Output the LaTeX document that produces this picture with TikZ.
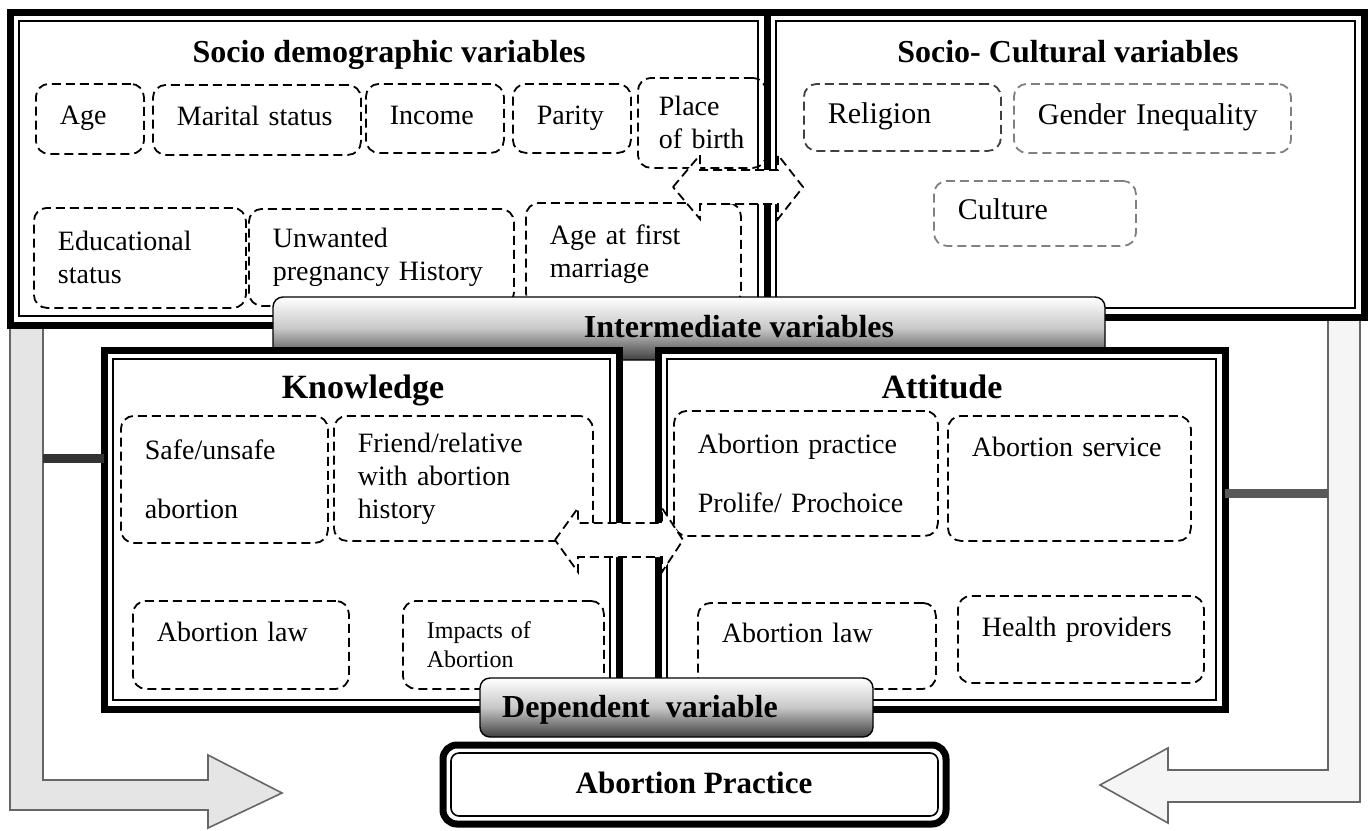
\documentclass[tikz,border=0pt]{standalone}
\usepackage{fontspec}
\setmainfont{Liberation Serif}
\newcommand{\itemsize}{\fontsize{28}{33}\selectfont}
\newcommand{\bigitem}{\fontsize{30}{36}\selectfont}
\newcommand{\smallitem}{\fontsize{24}{29}\selectfont}
\begin{document}
\begin{tikzpicture}[x=1pt, y=-1pt,
		frame/.style = {draw, line width=7pt, fill=white, inner sep=0pt, outer sep=0pt},
		inner line/.style = {draw, line width=1.6pt},
		item/.style = {draw, dash pattern=on 9pt off 5pt, line width=1.8pt, rounded corners=13pt,
			anchor=north west, align=left, inner xsep=24pt, inner ysep=0pt, font=\itemsize},
		oneline/.style = {text height=19pt, text depth=7pt},
		faint/.style = {item, oneline, draw=black!50, font=\bigitem},
		title/.style = {font=\fontsize{32}{38}\selectfont\bfseries, anchor=base},
		tab/.style = {draw, line width=1.4pt, rounded corners=10pt, inner sep=0pt,
			top color=white, bottom color=black!75, middle color=black!22},
		bar/.style = {draw=black!60, line width=1.6pt, fill=black!10},
		link/.style = {line width=9pt, black!80},
		dbl arrow/.style = {draw, dash pattern=on 9pt off 5pt, line width=1.8pt, fill=white}]
	
	\useasboundingbox (0,0) rectangle (1372,830);
	\fill[white] (0,0) rectangle (1372,830);
	
	% side bars with their block arrows
	\draw[bar] (10,325) -- (43,325) -- (43,780) -- (208,780) -- (208,755) -- (282,793)
		-- (208,828) -- (208,810) -- (10,810) -- cycle;
	\draw[bar, fill=black!4] (1328,320) -- (1360,320) -- (1360,802) -- (1168,802) -- (1168,823)
		-- (1100,785) -- (1168,748) -- (1168,770) -- (1328,770) -- cycle;
	\coordinate (lbar) at (43,458);
	\coordinate (rbar) at (1328,493);
	
	% upper frames
	\node[frame, minimum width=757pt, minimum height=313pt] (sd) at (388.5,168.5) {};
	\node[frame, minimum width=597pt, minimum height=305pt] (sc) at (1065.5,164.5) {};
	\foreach \f in {sd,sc}
	\draw[inner line] ([xshift=9pt,yshift=-9pt]\f.north west) rectangle ([xshift=-9pt,yshift=9pt]\f.south east);
	
	\node[title] (sdtitle) at (389,62) {Socio demographic variables};
	\node[title] (sctitle) at (1068,62) {Socio- Cultural variables};
	
	% socio demographic items
	\node[item, oneline, text width=60pt, minimum height=70pt] (age) at (35,83) {Age};
	\node[item, oneline, text width=160pt, minimum height=70pt] (marital) at (152,84) {Marital status};
	\node[item, oneline, text width=90pt, minimum height=69pt] (income) at (365,83) {Income};
	\node[item, oneline, text width=70pt, minimum height=69pt] (parity) at (512,83) {Parity};
	\node[item, text width=86pt, inner xsep=21pt, minimum height=90pt] (birth) at (637,77) {Place\\of birth};
	\node[item, text width=164pt, minimum height=100pt] (edu) at (33,207) {Educational\\status};
	\node[item, text width=217pt, minimum height=97pt] (unwanted) at (248,208) {Unwanted\\pregnancy History};
	\node[item, text width=167pt, minimum height=103pt] (firstmar) at (525,202) {Age at first\\marriage};
	
	% socio cultural items
	\node[faint, draw=black!75, text width=149pt, minimum height=67pt] (religion) at (803,83) {Religion};
	\node[faint, text width=229pt, minimum height=69pt] (gender) at (1013,83) {Gender Inequality};
	\node[faint, text width=154pt, minimum height=65pt] (culture) at (933,180) {Culture};
	
	% socio demographic <-> socio cultural
	\draw[dbl arrow] (673,187) -- (700,155) -- (700,170) -- (778,170) -- (778,155) -- (803,187)
		-- (778,219) -- (778,204) -- (700,204) -- (700,219) -- cycle;
	
	% intermediate tab
	\node[tab, minimum width=832pt, minimum height=63pt] (inter) at (689,328.5) {};
	\node[title] (intertitle) at (739,337) {Intermediate variables};
	
	% knowledge and attitude frames
	\node[frame, minimum width=515pt, minimum height=359pt] (know) at (361.5,529.5) {};
	\node[frame, minimum width=567pt, minimum height=359pt] (att) at (941.5,529.5) {};
	\foreach \f in {know,att}
	\draw[inner line] ([xshift=9pt,yshift=-9pt]\f.north west) rectangle ([xshift=-9pt,yshift=9pt]\f.south east);
	
	\draw[link] (lbar) -- (lbar -| know.west);
	\draw[link, black!65] (att.east |- rbar) -- (rbar);
	
	\node[title, font=\fontsize{34}{40}\selectfont\bfseries] (knowtitle) at (363,398) {Knowledge};
	\node[title, font=\fontsize{34}{40}\selectfont\bfseries] (atttitle) at (942,398) {Attitude};
	
	% knowledge items
	\node[item, text width=159pt, minimum height=127pt] (safe) at (120,415) {Safe/unsafe\\[26pt]abortion};
	\node[item, text width=211pt, minimum height=125pt] (friend) at (333,415) {Friend/relative\\with abortion\\history};
	\node[item, oneline, text width=168pt, minimum height=88pt, text depth=26pt] (klaw) at (132,600) {Abortion law};
	\node[item, text width=153pt, minimum height=88pt, font=\smallitem] (impact) at (402,600) {Impacts of\\Abortion};
	
	% attitude items
	\node[item, text width=216pt, minimum height=125pt] (practice) at (673,410) {Abortion practice\\[26pt]Prolife/ Prochoice};
	\node[item, oneline, text width=195pt, minimum height=125pt, text depth=63pt] (service) at (947,415) {Abortion service};
	\node[item, oneline, text width=190pt, minimum height=86pt, text depth=26pt] (alaw) at (697,602) {Abortion law};
	\node[item, oneline, text width=198pt, minimum height=87pt, text depth=25pt] (health) at (957,595) {Health providers};
	
	% knowledge <-> attitude
	\draw[dbl arrow] (555,540) -- (578,508) -- (578,523) -- (662,523) -- (662,508) -- (683,540)
		-- (662,572) -- (662,557) -- (578,557) -- (578,572) -- cycle;
	
	% dependent tab and outcome
	\node[tab, minimum width=393pt, minimum height=59pt] (dep) at (676.5,707.5) {};
	\node[title] (deptitle) at (640,717) {Dependent\ \ variable};
	
	\node[frame, rounded corners=14pt, minimum width=503pt, minimum height=79pt] (ap) at (694.5,784.5) {};
	\draw[inner line, rounded corners=8pt] ([xshift=8pt,yshift=-8pt]ap.north west) rectangle ([xshift=-8pt,yshift=8pt]ap.south east);
	\node[title, font=\fontsize{31}{37}\selectfont\bfseries] (aptitle) at (694,793) {Abortion Practice};
\end{tikzpicture}
\end{document}
